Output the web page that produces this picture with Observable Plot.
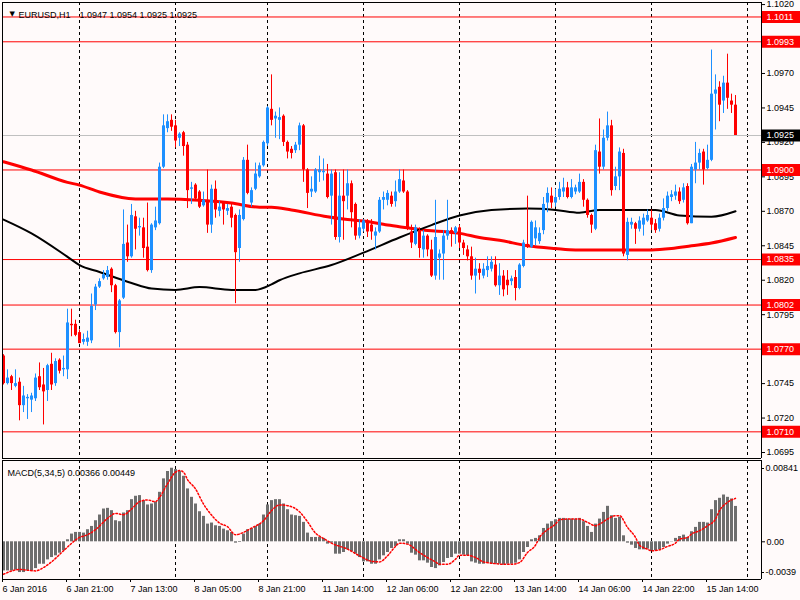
<!DOCTYPE html>
<html><head><meta charset="utf-8">
<script src="https://cdn.jsdelivr.net/npm/d3@7"></script>
<script src="https://cdn.jsdelivr.net/npm/@observablehq/plot@0.6"></script>
<style>
html,body{margin:0;padding:0;background:#fffafa;}
#chart{position:relative;width:800px;height:600px;overflow:hidden;background:#fffafa;}
#main{position:absolute;left:0;top:0;}
#macd{position:absolute;left:0;top:458px;}
svg{display:block;}
</style></head><body><div id="chart"><div id="main"></div><div id="macd"></div></div>
<script>
// ---- data (EURUSD H1, one entry per bar, bar 0 = 6 Jan 2016) ----
const opens = [1.0765,1.0745,1.0750,1.0743,1.0746,1.0729,1.0734,1.0733,1.0734,1.0750,1.0744,1.0740,1.0759,1.0745,1.0762,1.0755,1.0755,1.0788,1.0788,1.0782,1.0775,1.0775,1.0776,1.0802,1.0815,1.0821,1.0822,1.0828,1.0816,1.0782,1.0807,1.0847,1.0837,1.0866,1.0858,1.0858,1.0844,1.0827,1.0858,1.0861,1.0902,1.0930,1.0936,1.0932,1.0923,1.0927,1.0918,1.0886,1.0889,1.0884,1.0874,1.0878,1.0860,1.0886,1.0870,1.0876,1.0870,1.0873,1.0867,1.0843,1.0864,1.0907,1.0876,1.0886,1.0895,1.0903,1.0919,1.0944,1.0937,1.0936,1.0939,1.0920,1.0915,1.0914,1.0918,1.0932,1.0900,1.0884,1.0884,1.0898,1.0898,1.0897,1.0881,1.0898,1.0851,1.0881,1.0881,1.0890,1.0875,1.0852,1.0857,1.0862,1.0860,1.0852,1.0855,1.0878,1.0878,1.0881,1.0877,1.0884,1.0892,1.0884,1.0855,1.0846,1.0856,1.0842,1.0852,1.0842,1.0823,1.0836,1.0839,1.0852,1.0856,1.0854,1.0858,1.0847,1.0842,1.0837,1.0823,1.0828,1.0823,1.0827,1.0828,1.0831,1.0816,1.0823,1.0820,1.0819,1.0822,1.0814,1.0830,1.0846,1.0844,1.0850,1.0848,1.0856,1.0876,1.0881,1.0876,1.0880,1.0884,1.0887,1.0880,1.0884,1.0884,1.0891,1.0878,1.0867,1.0857,1.0913,1.0902,1.0923,1.0932,1.0888,1.0895,1.0912,1.0838,1.0860,1.0861,1.0857,1.0860,1.0863,1.0865,1.0861,1.0857,1.0865,1.0872,1.0880,1.0881,1.0884,1.0878,1.0888,1.0861,1.0900,1.0905,1.0913,1.0901,1.0907,1.0955,1.0960,1.0950,1.0963,1.0950,1.0947];
const highs = [1.0766,1.0755,1.0751,1.0755,1.0749,1.0743,1.0737,1.0738,1.0752,1.0760,1.0756,1.0759,1.0767,1.0763,1.0763,1.0765,1.0799,1.0799,1.0791,1.0784,1.0781,1.0783,1.0810,1.0817,1.0821,1.0827,1.0830,1.0829,1.0817,1.0806,1.0871,1.0860,1.0875,1.0870,1.0865,1.0865,1.0876,1.0861,1.0873,1.0905,1.0940,1.0940,1.0940,1.0936,1.0927,1.0928,1.0920,1.0891,1.0890,1.0885,1.0884,1.0900,1.0889,1.0892,1.0877,1.0877,1.0875,1.0875,1.0868,1.0871,1.0909,1.0918,1.0887,1.0905,1.0905,1.0921,1.0946,1.0969,1.0942,1.0945,1.0940,1.0921,1.0917,1.0920,1.0934,1.0933,1.0901,1.0895,1.0901,1.0910,1.0908,1.0904,1.0900,1.0900,1.0898,1.0900,1.0900,1.0892,1.0876,1.0864,1.0864,1.0864,1.0864,1.0858,1.0880,1.0884,1.0885,1.0884,1.0892,1.0900,1.0900,1.0885,1.0860,1.0860,1.0858,1.0856,1.0853,1.0849,1.0878,1.0842,1.0856,1.0878,1.0858,1.0859,1.0860,1.0849,1.0845,1.0844,1.0836,1.0832,1.0832,1.0837,1.0837,1.0837,1.0832,1.0827,1.0827,1.0823,1.0827,1.0832,1.0849,1.0881,1.0863,1.0863,1.0858,1.0880,1.0887,1.0887,1.0886,1.0891,1.0894,1.0891,1.0893,1.0889,1.0897,1.0893,1.0879,1.0868,1.0918,1.0937,1.0929,1.0942,1.0936,1.0902,1.0916,1.0915,1.0865,1.0865,1.0862,1.0866,1.0868,1.0871,1.0871,1.0864,1.0868,1.0879,1.0884,1.0885,1.0889,1.0887,1.0890,1.0890,1.0904,1.0920,1.0915,1.0915,1.0918,1.0987,1.0969,1.0964,1.0968,1.0984,1.0955,1.0954];
const lows = [1.0744,1.0744,1.0740,1.0742,1.0718,1.0724,1.0719,1.0724,1.0732,1.0740,1.0715,1.0732,1.0740,1.0743,1.0752,1.0750,1.0748,1.0779,1.0779,1.0774,1.0773,1.0772,1.0774,1.0798,1.0814,1.0820,1.0820,1.0811,1.0781,1.0771,1.0806,1.0833,1.0836,1.0842,1.0852,1.0836,1.0826,1.0825,1.0856,1.0860,1.0901,1.0927,1.0928,1.0916,1.0917,1.0910,1.0872,1.0875,1.0878,1.0872,1.0873,1.0854,1.0854,1.0865,1.0866,1.0860,1.0867,1.0858,1.0803,1.0833,1.0863,1.0882,1.0873,1.0885,1.0894,1.0902,1.0917,1.0932,1.0923,1.0922,1.0917,1.0908,1.0908,1.0912,1.0914,1.0891,1.0872,1.0880,1.0883,1.0891,1.0892,1.0879,1.0860,1.0849,1.0847,1.0849,1.0871,1.0858,1.0849,1.0850,1.0855,1.0851,1.0849,1.0842,1.0854,1.0871,1.0874,1.0873,1.0873,1.0883,1.0883,1.0856,1.0843,1.0845,1.0836,1.0836,1.0837,1.0822,1.0820,1.0820,1.0820,1.0849,1.0844,1.0846,1.0843,1.0838,1.0834,1.0820,1.0810,1.0820,1.0821,1.0822,1.0826,1.0815,1.0809,1.0808,1.0809,1.0816,1.0805,1.0813,1.0829,1.0843,1.0843,1.0845,1.0846,1.0853,1.0869,1.0872,1.0873,1.0878,1.0880,1.0879,1.0879,1.0882,1.0883,1.0873,1.0865,1.0854,1.0856,1.0897,1.0900,1.0921,1.0881,1.0885,1.0885,1.0837,1.0834,1.0857,1.0846,1.0855,1.0852,1.0862,1.0856,1.0854,1.0855,1.0863,1.0870,1.0877,1.0878,1.0875,1.0876,1.0860,1.0861,1.0890,1.0900,1.0889,1.0900,1.0906,1.0929,1.0935,1.0941,1.0944,1.0941,1.0925];
const closes = [1.0745,1.0749,1.0745,1.0745,1.0729,1.0736,1.0735,1.0736,1.0749,1.0742,1.0739,1.0758,1.0744,1.0761,1.0754,1.0756,1.0789,1.0787,1.0780,1.0774,1.0777,1.0778,1.0801,1.0815,1.0819,1.0824,1.0827,1.0816,1.0782,1.0805,1.0846,1.0837,1.0867,1.0857,1.0859,1.0843,1.0827,1.0860,1.0863,1.0902,1.0932,1.0935,1.0931,1.0921,1.0926,1.0917,1.0885,1.0887,1.0879,1.0873,1.0878,1.0860,1.0886,1.0871,1.0873,1.0871,1.0872,1.0865,1.0840,1.0867,1.0907,1.0883,1.0885,1.0897,1.0903,1.0920,1.0945,1.0936,1.0939,1.0938,1.0920,1.0913,1.0912,1.0918,1.0932,1.0900,1.0883,1.0886,1.0900,1.0900,1.0899,1.0880,1.0897,1.0851,1.0881,1.0877,1.0890,1.0869,1.0852,1.0858,1.0863,1.0855,1.0855,1.0855,1.0878,1.0880,1.0883,1.0875,1.0884,1.0893,1.0884,1.0857,1.0847,1.0858,1.0843,1.0852,1.0842,1.0823,1.0851,1.0839,1.0852,1.0856,1.0854,1.0858,1.0847,1.0843,1.0837,1.0823,1.0828,1.0825,1.0828,1.0830,1.0833,1.0816,1.0823,1.0813,1.0816,1.0821,1.0814,1.0831,1.0847,1.0844,1.0862,1.0858,1.0854,1.0875,1.0883,1.0876,1.0880,1.0886,1.0887,1.0880,1.0887,1.0887,1.0891,1.0878,1.0867,1.0860,1.0914,1.0902,1.0923,1.0932,1.0885,1.0895,1.0913,1.0839,1.0862,1.0862,1.0857,1.0863,1.0865,1.0867,1.0860,1.0856,1.0865,1.0872,1.0881,1.0882,1.0884,1.0877,1.0887,1.0861,1.0902,1.0905,1.0912,1.0900,1.0907,1.0955,1.0958,1.0947,1.0963,1.0952,1.0947,1.0925];

// moving averages read at sample bars
const redMaBars = [0,7,16,19,24,33,41,49,57,64,67,72,81,86,90,96,101,106,111,114,119,124,131,138,143,152,157,162,167,172,177,183];
const redMaVals = [1.0906,1.0900,1.0891,1.0889,1.0884,1.0879,1.0879,1.0878,1.0876,1.0873,1.0873,1.0871,1.0866,1.0864,1.0863,1.0860,1.0858,1.0856,1.0855,1.0854,1.0851,1.0849,1.0845,1.0843,1.0842,1.0842,1.0842,1.0842,1.0843,1.0845,1.0847,1.0851];
const blackMaBars = [0,7,16,19,24,32,37,43,49,57,63,67,69,74,82,90,99,107,114,122,131,138,144,149,157,163,169,177,183];
const blackMaVals = [1.0864,1.0854,1.0837,1.0831,1.0826,1.0818,1.0814,1.0813,1.0815,1.0813,1.0813,1.0817,1.0820,1.0825,1.0831,1.0840,1.0851,1.0860,1.0867,1.0871,1.0872,1.0871,1.0869,1.0871,1.0871,1.0871,1.0867,1.0866,1.0870];

// MACD(5,34,5) histogram (one per bar) and signal (sample bars)
const macdHist = [-0.00301,-0.00301,-0.00301,-0.00294,-0.00318,-0.00318,-0.00301,-0.00301,-0.00277,-0.00232,-0.00232,-0.00187,-0.00163,-0.00145,-0.00118,-0.00093,0.00021,0.00080,0.00097,0.00097,0.00090,0.00125,0.00159,0.00218,0.00277,0.00339,0.00346,0.00322,0.00218,0.00208,0.00298,0.00322,0.00436,0.00471,0.00478,0.00426,0.00381,0.00391,0.00408,0.00512,0.00651,0.00727,0.00761,0.00747,0.00727,0.00678,0.00547,0.00460,0.00391,0.00311,0.00263,0.00183,0.00194,0.00166,0.00159,0.00131,0.00114,0.00097,-0.00014,-0.00007,0.00080,0.00125,0.00138,0.00159,0.00183,0.00277,0.00381,0.00426,0.00436,0.00436,0.00391,0.00332,0.00277,0.00270,0.00263,0.00201,0.00090,0.00045,0.00045,0.00045,0.00035,-0.00024,-0.00014,-0.00128,-0.00128,-0.00111,-0.00083,-0.00104,-0.00128,-0.00163,-0.00208,-0.00208,-0.00232,-0.00232,-0.00187,-0.00145,-0.00111,-0.00069,-0.00048,0.00021,0.00021,-0.00024,-0.00118,-0.00138,-0.00197,-0.00197,-0.00221,-0.00266,-0.00277,-0.00249,-0.00215,-0.00173,-0.00163,-0.00128,-0.00128,-0.00138,-0.00145,-0.00208,-0.00221,-0.00232,-0.00232,-0.00221,-0.00232,-0.00232,-0.00232,-0.00242,-0.00232,-0.00232,-0.00221,-0.00187,-0.00111,-0.00059,0.00021,0.00035,0.00062,0.00138,0.00183,0.00208,0.00228,0.00242,0.00242,0.00235,0.00235,0.00235,0.00242,0.00208,0.00159,0.00097,0.00183,0.00235,0.00304,0.00367,0.00270,0.00242,0.00253,0.00062,-0.00014,-0.00035,-0.00069,-0.00083,-0.00083,-0.00076,-0.00093,-0.00093,-0.00083,-0.00059,-0.00024,0.00003,0.00035,0.00055,0.00069,0.00045,0.00104,0.00149,0.00201,0.00201,0.00194,0.00332,0.00426,0.00450,0.00484,0.00460,0.00443,0.00366];
const signalBars = [0,4,8,10,12,15,19,21,23,26,28,30,32,34,36,38,39,41,43,44,45,46,48,50,52,54,56,58,60,62,65,67,69,71,74,76,78,80,82,86,89,92,94,96,98,99,101,104,106,108,109,111,113,114,116,118,120,122,125,127,129,131,133,134,136,138,139,141,144,146,148,149,151,153,154,156,158,159,161,162,164,166,168,169,171,172,174,176,178,179,181,183];
const signalVals = [-0.00336,-0.00287,-0.00301,-0.00266,-0.00208,-0.00093,0.00045,0.00073,0.00125,0.00242,0.00294,0.00280,0.00339,0.00415,0.00433,0.00415,0.00460,0.00599,0.00720,0.00737,0.00720,0.00644,0.00547,0.00391,0.00277,0.00194,0.00156,0.00073,0.00097,0.00142,0.00218,0.00322,0.00381,0.00374,0.00311,0.00208,0.00090,0.00035,-0.00014,-0.00076,-0.00145,-0.00201,-0.00208,-0.00145,-0.00048,-0.00014,-0.00024,-0.00111,-0.00163,-0.00208,-0.00232,-0.00232,-0.00180,-0.00138,-0.00138,-0.00163,-0.00208,-0.00221,-0.00232,-0.00232,-0.00215,-0.00111,-0.00035,0.00045,0.00125,0.00183,0.00228,0.00235,0.00235,0.00201,0.00166,0.00183,0.00235,0.00270,0.00270,0.00149,0.00045,-0.00035,-0.00076,-0.00093,-0.00083,-0.00048,-0.00014,0.00028,0.00045,0.00080,0.00114,0.00166,0.00235,0.00322,0.00408,0.00449];

// levels, ticks, labels
const resistanceLevels = [1.1011, 1.0993, 1.0900, 1.0835, 1.0802, 1.0770, 1.0710];
const bidLevel = 1.0925;
const priceTicks = [1.1020,1.0970,1.0945,1.0920,1.0895,1.0870,1.0845,1.0820,1.0795,1.0745,1.0720,1.0695];
const daySeparatorBars = [19, 43, 66, 90, 114, 138, 162, 186];
const timeLabelBars = [0,16,32,48,64,80,96,112,128,144,160,176];
const timeLabels = ["6 Jan 2016","6 Jan 21:00","7 Jan 13:00","8 Jan 05:00","8 Jan 21:00","11 Jan 14:00","12 Jan 06:00","12 Jan 22:00","13 Jan 14:00","14 Jan 06:00","14 Jan 22:00","15 Jan 14:00"];
const macdScaleTop = 0.00841, macdScaleBottom = -0.0039;
const headerSymbol = "EURUSD,H1";
const headerQuote = "1.0947 1.0954 1.0925 1.0925";
const macdTitle = "MACD(5,34,5) 0.00366 0.00449";

// ---- build ----
const BULL = "#1e90ff", BEAR = "#ff0000";
const candles = opens.map((o, i) => ({i, o, h: highs[i], l: lows[i], c: closes[i]}));
const up = candles.filter(d => d.c >= d.o), down = candles.filter(d => d.c < d.o);
const redMa = redMaBars.map((b, k) => ({b, v: redMaVals[k]}));
const blackMa = blackMaBars.map((b, k) => ({b, v: blackMaVals[k]}));
const hist = macdHist.map((v, i) => ({i, v}));
const signal = signalBars.map((b, k) => ({b, v: signalVals[k]}));

const xDomain = [-0.25, 189.5];           // 4 px per bar, plot spans x 2..761
const boxX1 = xDomain[1] + 0.25, boxX2 = xDomain[1] + 9.75, tickX2 = xDomain[1] + 0.75;
const font = "'Liberation Sans', Arial, sans-serif";
const baseStyle = {background: "transparent", fontFamily: font, fontSize: "9px", color: "#000", overflow: "visible"};

const main = Plot.plot({
  width: 800, height: 460, marginLeft: 2, marginRight: 39, marginTop: 2, marginBottom: 2,
  style: baseStyle,
  x: {domain: xDomain, axis: null},
  y: {domain: [1.069066, 1.10215], axis: null},
  marks: [
    Plot.ruleX(daySeparatorBars, {stroke: "#000", strokeDasharray: "3,3"}),
    Plot.ruleY([bidLevel], {stroke: "#c0c0c0"}),
    Plot.ruleY(resistanceLevels, {stroke: "#ff0000"}),
    Plot.line(redMa, {x: "b", y: "v", stroke: "#ff0000", strokeWidth: 3, curve: "monotone-x"}),
    Plot.line(blackMa, {x: "b", y: "v", stroke: "#000", strokeWidth: 2, curve: "monotone-x"}),
    Plot.ruleX(up, {x: "i", y1: "l", y2: "h", stroke: BULL}),
    Plot.ruleX(down, {x: "i", y1: "l", y2: "h", stroke: BEAR}),
    Plot.ruleX(up, {x: "i", y1: "o", y2: "c", stroke: BULL, strokeWidth: 3}),
    Plot.ruleX(down, {x: "i", y1: "o", y2: "c", stroke: BEAR, strokeWidth: 3}),
    Plot.ruleX([xDomain[0], xDomain[1]], {stroke: "#000"}),
    Plot.ruleY([1.10215, 1.069066], {stroke: "#000"}),
    Plot.axisY({anchor: "right", label: null, ticks: priceTicks, tickSize: 3, tickPadding: 2, tickFormat: d => d.toFixed(4), fill: "#000", stroke: "#000"}),
    Plot.ruleY(resistanceLevels, {x1: boxX1, x2: boxX2, stroke: "#ff0000", strokeWidth: 12}),
    Plot.text(resistanceLevels, {x: xDomain[1], y: d => d, text: d => d.toFixed(4), dx: 5, textAnchor: "start", fill: "#fff"}),
    Plot.ruleY([bidLevel], {x1: boxX1, x2: boxX2, stroke: "#000", strokeWidth: 12}),
    Plot.text([bidLevel], {x: xDomain[1], y: d => d, text: d => d.toFixed(4), dx: 5, textAnchor: "start", fill: "#fff"}),
    Plot.text(["\u25BC"], {frameAnchor: "top-left", dx: 7, dy: 8.5, fontSize: 7, fill: "#000", fontFamily: "'DejaVu Sans'"}),
    Plot.text([headerSymbol], {frameAnchor: "top-left", dx: 16, dy: 8.7, textAnchor: "start", fill: "#000"}),
    Plot.text([headerQuote], {frameAnchor: "top-left", dx: 77, dy: 8.7, textAnchor: "start", fill: "#000"})
  ]
});
document.getElementById("main").appendChild(main);

const macd = Plot.plot({
  width: 800, height: 142, marginLeft: 2, marginRight: 39, marginTop: 2, marginBottom: 21,
  style: baseStyle,
  x: {domain: xDomain, axis: null},
  y: {domain: [macdScaleBottom, macdScaleTop], axis: null},
  marks: [
    Plot.ruleX(daySeparatorBars, {stroke: "#000", strokeDasharray: "3,3"}),
    Plot.ruleX(hist, {x: "i", y1: 0, y2: "v", stroke: "#6e6e6e", strokeWidth: 3}),
    Plot.line(signal, {x: "b", y: "v", stroke: "#ff0000", strokeDasharray: "1.5,2", curve: "monotone-x"}),
    Plot.ruleX([xDomain[0], xDomain[1]], {stroke: "#000"}),
    Plot.ruleY([macdScaleBottom, macdScaleTop], {stroke: "#000"}),
    Plot.axisY({anchor: "right", label: null, ticks: [0], tickSize: 3, tickPadding: 2, tickFormat: d => "0.00", fill: "#000", stroke: "#000"}),
    Plot.ruleY([macdScaleTop], {x1: xDomain[1], x2: tickX2, dy: 8, stroke: "#000"}),
    Plot.ruleY([macdScaleBottom], {x1: xDomain[1], x2: tickX2, dy: -7, stroke: "#000"}),
    Plot.text([macdScaleTop], {x: xDomain[1], y: d => d, text: d => String(d), dx: 4, dy: 8, textAnchor: "start", fill: "#000"}),
    Plot.text([macdScaleBottom], {x: xDomain[1], y: d => d, text: d => String(d), dx: 4, dy: -7, textAnchor: "start", fill: "#000"}),
    Plot.axisX({anchor: "bottom", label: null, ticks: timeLabelBars, tickSize: 3, tickPadding: 3, textAnchor: "start", dx: -1,
      tickFormat: d => timeLabels[timeLabelBars.indexOf(d)], fill: "#000", stroke: "#000"}),
    Plot.text([macdTitle], {frameAnchor: "top-left", dx: 5, dy: 9.5, textAnchor: "start", fill: "#000"})
  ]
});
document.getElementById("macd").appendChild(macd);
</script></body></html>
